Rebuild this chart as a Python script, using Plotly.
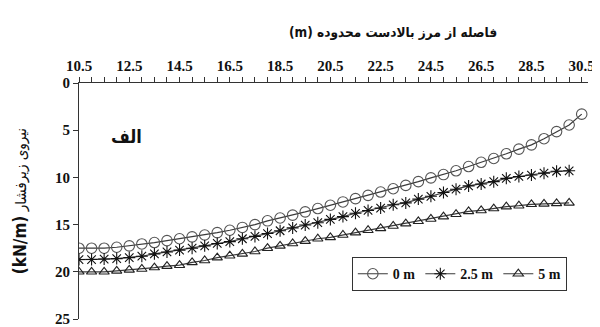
import plotly.graph_objects as go

# distance from upstream boundary (m)
x_full = [10.5 + 0.5 * i for i in range(41)]
x_short = x_full[:40]

# uplift force (kN/m) for the three cases
uplift_0m = [17.5, 17.5, 17.5, 17.4, 17.25, 17.05, 16.9, 16.7, 16.5, 16.3,
             16.1, 15.85, 15.6, 15.3, 15.0, 14.6, 14.3, 14.0, 13.65, 13.3,
             12.95, 12.6, 12.25, 11.9, 11.55, 11.2, 10.85, 10.45, 10.05, 9.7,
             9.3, 8.85, 8.4, 8.0, 7.5, 7.0, 6.55, 5.9, 5.15, 4.45, 3.3]
uplift_25m = [18.7, 18.7, 18.65, 18.6, 18.5, 18.35, 18.1, 17.9, 17.7, 17.5,
              17.25, 17.0, 16.8, 16.5, 16.25, 15.95, 15.65, 15.35, 15.05, 14.8,
              14.45, 14.15, 13.8, 13.5, 13.25, 12.9, 12.7, 12.3, 12.0, 11.6,
              11.25, 10.9, 10.7, 10.45, 10.1, 9.9, 9.75, 9.55, 9.35, 9.3]
uplift_5m = [20.0, 20.0, 20.0, 19.9, 19.8, 19.7, 19.55, 19.4, 19.3, 19.0,
             18.8, 18.5, 18.3, 18.1, 17.85, 17.5, 17.25, 17.0, 16.75, 16.5,
             16.35, 16.1, 15.85, 15.6, 15.4, 15.15, 14.9, 14.65, 14.4, 14.15,
             13.9, 13.6, 13.5, 13.3, 13.1, 13.0, 12.85, 12.8, 12.75, 12.7]

x_ticks = [10.5, 12.5, 14.5, 16.5, 18.5, 20.5, 22.5, 24.5, 26.5, 28.5, 30.5]
y_ticks = [0, 5, 10, 15, 20, 25]

SERIF = "Liberation Serif"
ARABIC = "DejaVu Sans Condensed, DejaVu Sans"

fig = go.Figure()

series = [
    (x_full, uplift_0m, "0 m", "circle-open", 10.5, "#555555"),
    (x_short, uplift_25m, "2.5 m", "asterisk-open", 10, "#111111"),
    (x_short, uplift_5m, "5 m", "triangle-up-open", 9, "#222222"),
]
for xs, ys, name, sym, size, mcol in series:
    fig.add_trace(go.Scatter(
        x=xs, y=ys, mode="lines+markers", name=name,
        line=dict(color="#3a3a3a", width=1.2),
        marker=dict(symbol=sym, size=size, color=mcol,
                    line=dict(color=mcol, width=1.1)),
    ))

tick_font = dict(family=SERIF, size=15, color="#111", weight="bold")

fig.update_xaxes(
    side="top", range=[10.5, 30.75], automargin=False,
    tickvals=x_ticks, ticktext=[f"{v:.1f}" for v in x_ticks],
    ticks="outside", ticklen=5, tickcolor="#333",
    minor=dict(dtick=0.5, tick0=10.5, ticks="outside", ticklen=5, tickcolor="#333"),
    showline=True, linecolor="#333", linewidth=1.2,
    showgrid=False, zeroline=False,
    tickfont=tick_font, ticklabeloverflow="allow",
)
fig.update_yaxes(
    range=[25, 0], tickvals=y_ticks, automargin=False,
    ticks="outside", ticklen=5, tickcolor="#333",
    showline=True, linecolor="#333", linewidth=1.2,
    showgrid=False, zeroline=False,
    tickfont=tick_font, ticklabeloverflow="allow",
    title=dict(text="<b><span style='font-size:17px'>(kN/m)</span></b> نیروی زیرفشار",
               font=dict(family=ARABIC, size=15, color="#111"), standoff=24),
)

fig.add_annotation(
    text="<b>(m) فاصله از مرز بالادست محدوده</b>",
    xref="paper", yref="paper", x=0.617, y=1.0, yshift=61,
    showarrow=False, font=dict(family=ARABIC, size=13.5, color="#111"),
)
fig.add_annotation(
    text="<b>الف</b>", xref="x", yref="y", x=12.4, y=5.7,
    showarrow=False, font=dict(family=ARABIC, size=18, color="#111"),
)

# the page body adds an 8px offset, so the figure is sized 8px smaller
fig.update_layout(
    width=592, height=319,
    template="plotly_white",
    plot_bgcolor="white", paper_bgcolor="white",
    margin=dict(l=71, r=12, t=75, b=8),
    showlegend=True,
    legend=dict(
        orientation="h", x=0.536, y=0.262, xanchor="left", yanchor="top",
        bordercolor="#333", borderwidth=1, bgcolor="white",
        font=dict(family=SERIF, size=14, color="#111", weight="bold"),
        tracegroupgap=0,
    ),
)

fig.write_html("out.html")
